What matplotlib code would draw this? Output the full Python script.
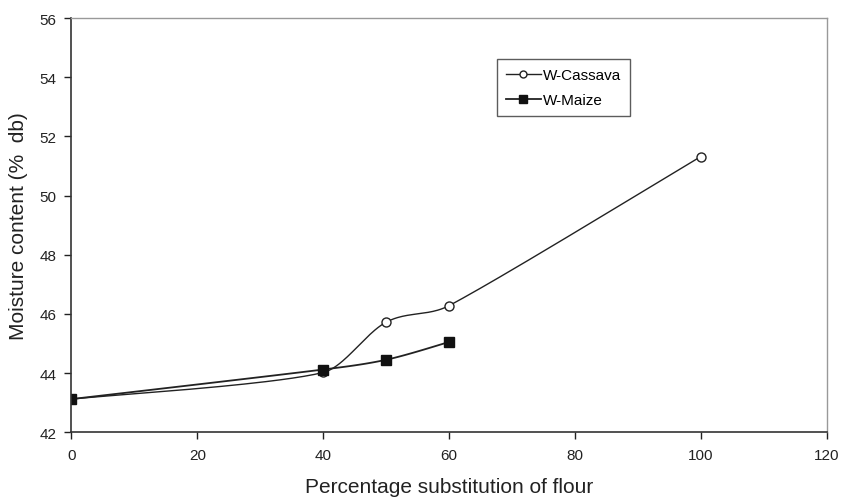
import numpy as np
import matplotlib
matplotlib.use("Agg")
import matplotlib.pyplot as plt
from matplotlib.lines import Line2D

# substitution level (%) and moisture content (% db)
cassava_x = [0, 40, 50, 60, 100]
cassava_y = [43.12, 44.02, 45.72, 46.28, 51.32]
maize_x = [0, 40, 50, 60]
maize_y = [43.12, 44.12, 44.45, 45.05]


def smooth(xs, ys, n=40):
    """Spreadsheet-style smoothed line: cubic Bezier through the points,
    tangents clipped so a curve cannot overshoot its own segment."""
    p = np.column_stack([xs, ys]).astype(float)
    out = [p[0]]
    for i in range(len(p) - 1):
        p0 = p[i - 1] if i > 0 else p[i]
        p1, p2 = p[i], p[i + 1]
        p3 = p[i + 2] if i + 2 < len(p) else p[i + 1]
        lim = (p2[0] - p1[0]) / 3
        t1 = (p2 - p0) / 6
        t2 = (p3 - p1) / 6
        if t1[0] > lim:
            t1 = t1 * lim / t1[0]
        if t2[0] > lim:
            t2 = t2 * lim / t2[0]
        c1, c2 = p1 + t1, p2 - t2
        t = np.linspace(0, 1, n)[1:, None]
        seg = ((1 - t) ** 3 * p1 + 3 * (1 - t) ** 2 * t * c1
               + 3 * (1 - t) * t ** 2 * c2 + t ** 3 * p2)
        out.extend(seg)
    out = np.array(out)
    return out[:, 0], out[:, 1]


plt.rcParams.update({"font.family": ["Liberation Sans", "DejaVu Sans"]})
fig = plt.figure(figsize=(8.41, 5.02), dpi=100)
ax = fig.add_axes([0.085, 0.137, 0.898, 0.825])

ink = "#222222"
sx, sy = smooth(cassava_x, cassava_y)
ax.plot(sx, sy, color=ink, lw=1.0)
ax.plot(cassava_x, cassava_y, ls="none", marker="o", ms=6.5, mfc="white",
        mec=ink, mew=1.0)
sx, sy = smooth(maize_x, maize_y)
ax.plot(sx, sy, color=ink, lw=1.3)
ax.plot(maize_x, maize_y, ls="none", marker="s", ms=6.8, mfc="#111111",
        mec="#111111")

ax.set_xlim(0, 120)
ax.set_ylim(42, 56)
ax.set_xticks(np.arange(0, 121, 20))
ax.set_yticks(np.arange(42, 57, 2))
ax.tick_params(direction="out", length=5, width=1, pad=6, labelsize=11,
               colors=ink)
for s in ("left", "bottom"):
    ax.spines[s].set_color("#333333")
    ax.spines[s].set_linewidth(1.2)
for s in ("top", "right"):
    ax.spines[s].set_color("#999999")
    ax.spines[s].set_linewidth(1.0)

ax.set_ylabel("Moisture content (%  db)", fontsize=15, color=ink, labelpad=8)
ax.set_xlabel("Percentage substitution of flour", fontsize=15, color=ink,
              labelpad=11)

handles = [
    Line2D([], [], color=ink, lw=1.0, marker="o", ms=5, mfc="white", mec=ink),
    Line2D([], [], color=ink, lw=1.3, marker="s", ms=6, mfc="#111111",
           mec="#111111"),
]
leg = ax.legend(handles, ["W-Cassava", "W-Maize"], loc="upper left",
                bbox_to_anchor=(0.564, 0.9), fontsize=11, frameon=True,
                fancybox=False, handlelength=2.3, handletextpad=0.15,
                labelspacing=0.75, borderpad=0.55, borderaxespad=0)
leg.get_frame().set_edgecolor("#333333")
leg.get_frame().set_linewidth(1.0)

fig.savefig("out.png", dpi=100)
